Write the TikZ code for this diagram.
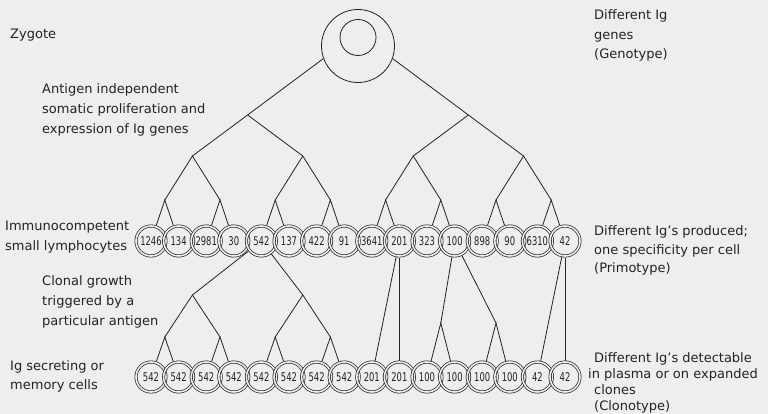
\documentclass[tikz,border=0pt]{standalone}
\usepackage{fontspec}
\setmainfont{DejaVu Sans}
\newfontfamily\numfont[FakeStretch=0.7]{DejaVu Sans}
\definecolor{bg}{RGB}{238,238,238}
\definecolor{ink}{RGB}{35,35,35}
\begin{document}
\begin{tikzpicture}[x=1pt,y=-1pt,
  cell/.style={circle,draw=ink,double=bg,line width=0.7pt,double distance=1.6pt,
    minimum size=30pt,inner sep=0pt,outer sep=1.5pt,
    font=\numfont\fontsize{12}{12}\selectfont,text=ink},
  link/.style={draw=ink,line width=0.8pt},
  ring/.style={circle,draw=ink,line width=0.8pt,inner sep=0pt},
  lbl/.style={anchor=north west,align=left,inner sep=0pt,text=ink},
]
\fill[bg] (0,0) rectangle (768,414);
\useasboundingbox (0,0) rectangle (768,414);

% zygote
\node[ring,minimum size=73pt] (zyg) at (358,46) {};
\node[ring,minimum size=36pt] (zygin) at (358,37.5) {};

% leaves
\foreach \n [count=\i from 0] in {1246,134,2981,30,542,137,422,91,3641,201,323,100,898,90,6310,42}
  \node[cell] (t\i) at ({151+27.6*\i},241) {\n};
\foreach \n [count=\i from 0] in {542,542,542,542,542,542,542,542,201,201,100,100,100,100,42,42}
  \node[cell] (s\i) at ({151+27.6*\i},377) {\n};

% top tree points
\coordinate (a1) at (247.6,115);
\coordinate (a2) at (468.4,115);
\foreach \k/\x in {1/192.4,2/302.8,3/413.2,4/523.6}
  \coordinate (b\k) at (\x,156);
\foreach \k in {1,...,8}
  \coordinate (c\k) at ({164.8+55.2*(\k-1)},200);

\draw[link] (zyg.200) -- (a1) -- (b1);
\draw[link] (a1) -- (b2);
\draw[link] (zyg.340) -- (a2) -- (b4);
\draw[link] (a2) -- (b3);
\foreach \k [evaluate=\k as \l using int(2*\k-1), evaluate=\k as \r using int(2*\k)] in {1,...,4}
  \draw[link] (c\l) -- (b\k) -- (c\r);
\foreach \k [evaluate=\k as \l using int(2*\k-2), evaluate=\k as \r using int(2*\k-1)] in {1,...,8}
  \draw[link] (t\l) -- (c\k) -- (t\r);

% clonal expansion
\coordinate (d1) at (192.4,295);
\coordinate (d2) at (302.8,295);
\foreach \k in {1,...,4}
  \coordinate (e\k) at ({164.8+55.2*(\k-1)},337);
\draw[link] (t4) -- (d1) -- (e1);
\draw[link] (d1) -- (e2);
\draw[link] (t4) -- (d2) -- (e4);
\draw[link] (d2) -- (e3);
\foreach \k [evaluate=\k as \l using int(2*\k-2), evaluate=\k as \r using int(2*\k-1)] in {1,...,4}
  \draw[link] (s\l) -- (e\k) -- (s\r);

\draw[link] (t9) -- (s8);
\draw[link] (t9) -- (s9);

\coordinate (f1) at (440.8,323);
\coordinate (f2) at (496,323);
\draw[link] (t11) -- (f1);
\draw[link] (t11) -- (f2);
\draw[link] (s10) -- (f1) -- (s11);
\draw[link] (s12) -- (f2) -- (s13);

\draw[link] (t15) -- (s14);
\draw[link] (t15) -- (s15);

% labels
\node[lbl,font=\fontsize{13}{20}\selectfont] (lz) at (10,28.6) {\rule{0pt}{10pt}Zygote};
\node[lbl,font=\fontsize{13}{20}\selectfont] (la) at (42,83.6)
  {\rule{0pt}{10pt}Antigen independent\\somatic proliferation and\\expression of Ig genes};
\node[lbl,font=\fontsize{13}{20}\selectfont] (li) at (5,220.6)
  {\rule{0pt}{10pt}Immunocompetent\\small lymphocytes};
\node[lbl,font=\fontsize{13}{20}\selectfont] (lc) at (42,275.6)
  {\rule{0pt}{10pt}Clonal growth\\triggered by a\\particular antigen};
\node[lbl,font=\fontsize{13}{19}\selectfont] (ls) at (10,360.6)
  {\rule{0pt}{10pt}Ig secreting or\\memory cells};
\node[lbl,font=\fontsize{13}{19.5}\selectfont] (rg) at (594,9.6)
  {\rule{0pt}{10pt}Different Ig\\genes\\(Genotype)};
\node[lbl,font=\fontsize{13}{18.3}\selectfont] (rp) at (594,225.6)
  {\rule{0pt}{10pt}Different Ig's produced;\\one specificity per cell\\(Primotype)};
\node[lbl,font=\fontsize{13}{16}\selectfont] (rc) at (594,352)
  {\rule{0pt}{10pt}Different Ig's detectable\\\hspace*{-6pt}in plasma or on expanded\\clones\\(Clonotype)};
\end{tikzpicture}
\end{document}
